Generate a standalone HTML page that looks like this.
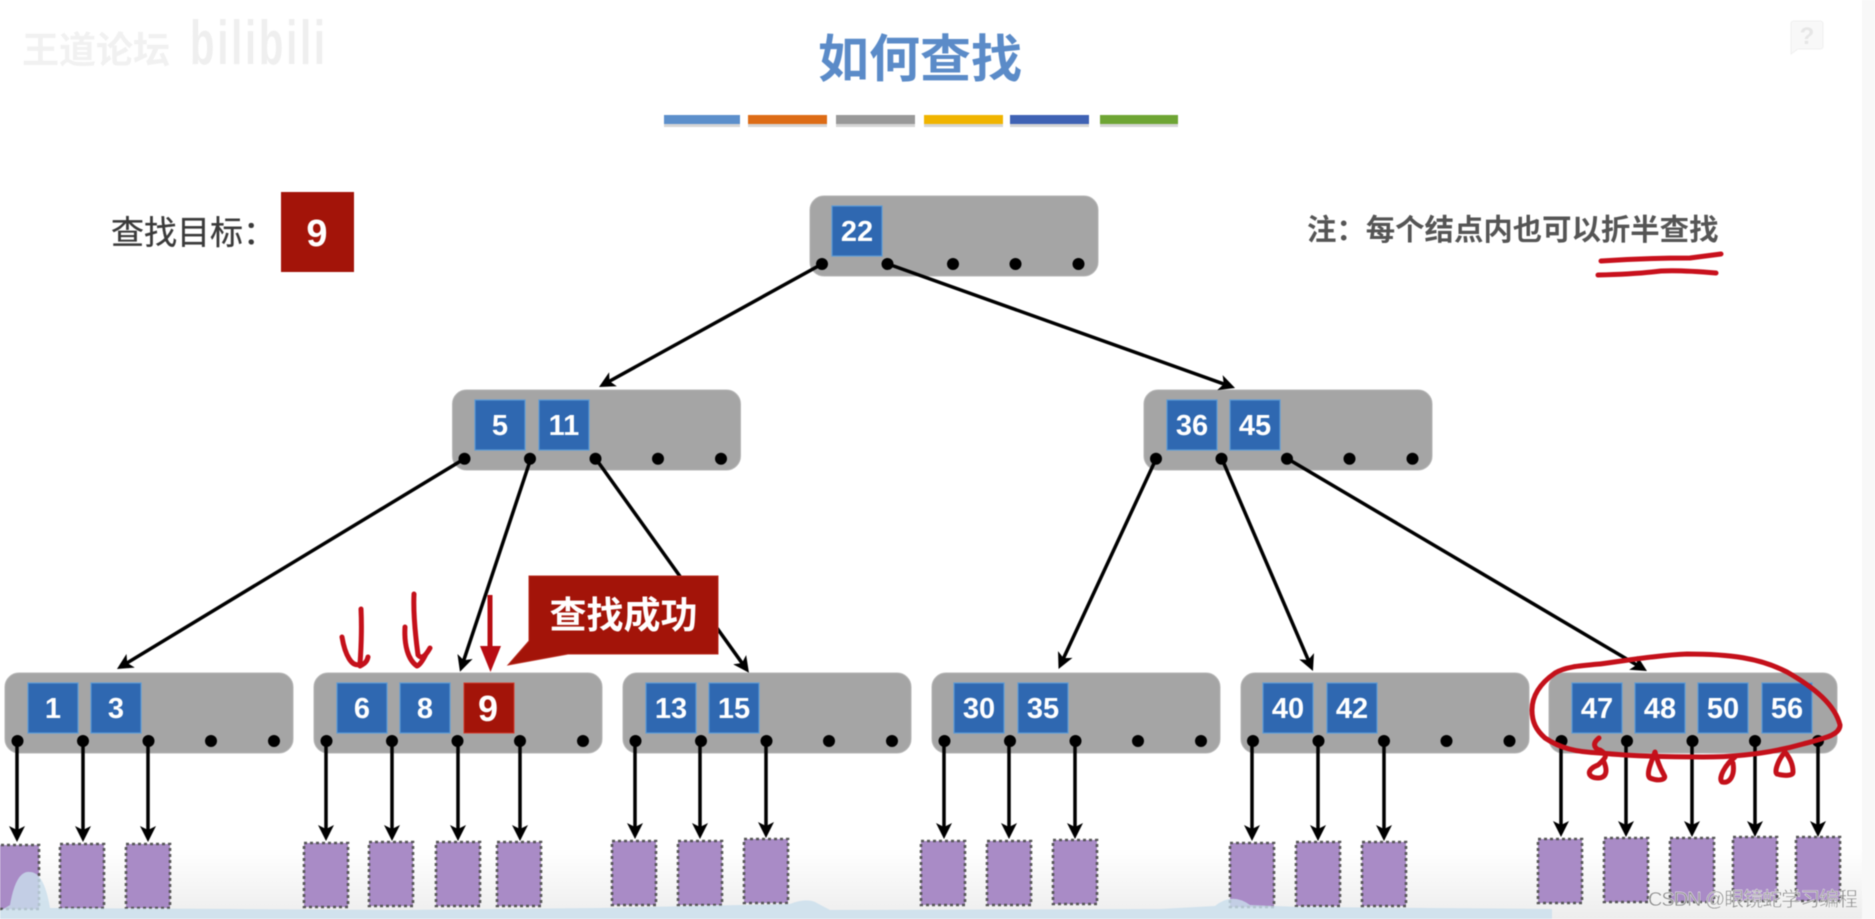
<!DOCTYPE html>
<html lang="zh"><head><meta charset="utf-8"><title>如何查找</title>
<style>
html,body{margin:0;padding:0;background:#fff;width:1875px;height:919px;overflow:hidden}
svg{display:block;filter:blur(.5px)}
text{font-family:"Liberation Sans","Noto Sans CJK SC",sans-serif}
.k{fill:#2f68b1;stroke:#5a9ad6;stroke-width:1.2}
.n{fill:#a5a5a5;stroke:#b5b5b5;stroke-width:1}
.t{fill:#fff;font-size:29px;font-weight:bold;text-anchor:middle}
.a{stroke:#000;stroke-width:3.5;fill:none;marker-end:url(#ah)}
.p{fill:#a98bc6;stroke:#555;stroke-width:2.6;stroke-dasharray:3 3}
.h{fill:none;stroke:#c4101a;stroke-width:5;stroke-linecap:round;stroke-linejoin:round}
</style></head><body>
<svg width="1875" height="919" viewBox="0 0 1875 919" xmlns="http://www.w3.org/2000/svg">
<defs>
<marker id="ah" markerUnits="userSpaceOnUse" viewBox="0 0 16 16" markerWidth="16" markerHeight="16" refX="8" refY="8" orient="auto"><path d="M0,0 L16,8 L0,16 L4,8 z" fill="#000"/></marker>
<linearGradient id="bg" x1="0" y1="0" x2="0" y2="1"><stop offset="0" stop-color="#fff"/><stop offset="1" stop-color="#ededed"/></linearGradient>
<g id="dots"><circle cx="13" cy="68.5" r="6"/><circle cx="78.5" cy="68.5" r="6"/><circle cx="144" cy="68.5" r="6"/><circle cx="206.5" cy="68.5" r="6"/><circle cx="269.5" cy="68.5" r="6"/></g>
<rect id="nb" width="288" height="80" rx="14" class="n"/>
</defs>

<rect x="0" y="850" width="1875" height="69" fill="url(#bg)"/>
<rect x="1862" y="0" width="13" height="919" fill="#f8f8f8"/>

<!-- watermark -->
<text x="22" y="63" font-size="37" fill="#f1f1f1" textLength="148" font-weight="bold">王道论坛</text>
<text transform="translate(190,64) scale(1,1.55)" font-size="40" font-weight="bold" fill="#efefef" textLength="135">bilibili</text>
<path d="M1791,24 q0,-3 3,-3 h26 q3,0 3,3 v22 q0,3 -3,3 h-22 l-7,5 z" fill="#f8f8f8" stroke="#f0f0f0"/>
<text x="1807" y="44" font-size="24" font-weight="bold" fill="#e6e6e6" text-anchor="middle">?</text>

<!-- title -->
<text x="920" y="77" font-size="51" font-weight="bold" fill="#5b8bc8" text-anchor="middle">如何查找</text>
<g>
<rect x="664" y="118" width="76" height="9" fill="#888" opacity=".35"/><rect x="748" y="118" width="79" height="9" fill="#888" opacity=".35"/><rect x="836" y="118" width="79" height="9" fill="#888" opacity=".35"/><rect x="924" y="118" width="79" height="9" fill="#888" opacity=".35"/><rect x="1010" y="118" width="79" height="9" fill="#888" opacity=".35"/><rect x="1100" y="118" width="78" height="9" fill="#888" opacity=".35"/>
<rect x="664" y="115" width="76" height="9" fill="#5c8fcb"/>
<rect x="748" y="115" width="79" height="9" fill="#dd6c16"/>
<rect x="836" y="115" width="79" height="9" fill="#999"/>
<rect x="924" y="115" width="79" height="9" fill="#f0b400"/>
<rect x="1010" y="115" width="79" height="9" fill="#3f62b4"/>
<rect x="1100" y="115" width="78" height="9" fill="#6ea534"/>
</g>

<text x="111" y="244" font-size="33" fill="#3a3a3a" stroke="#3a3a3a" stroke-width=".3">查找目标：</text>
<rect x="281" y="192" width="73" height="80" fill="#a31409"/>
<text x="317" y="246" font-size="38" font-weight="bold" fill="#fff" text-anchor="middle">9</text>
<text x="1307" y="240" font-size="29.4" font-weight="bold" fill="#555">注：每个结点内也可以折半查找</text>
<path d="M1601,261 Q1645,258 1690,258 L1721,254 M1598,275 Q1636,274 1661,271 Q1681,270 1716,273" fill="none" stroke="#c8101c" stroke-width="5" stroke-linecap="round"/>

<!-- root -->
<use href="#nb" x="810" y="196"/>
<rect class="k" x="832" y="206" width="50" height="50"/><text class="t" x="857" y="241">22</text>

<!-- level 2 -->
<use href="#nb" x="452.5" y="390"/>
<rect class="k" x="475" y="400" width="50" height="50"/><text class="t" x="500" y="435">5</text>
<rect class="k" x="539" y="400" width="50" height="50"/><text class="t" x="564" y="435">11</text>
<use href="#nb" x="1144" y="390"/>
<rect class="k" x="1167" y="400" width="50" height="50"/><text class="t" x="1192" y="435">36</text>
<rect class="k" x="1230" y="400" width="50" height="50"/><text class="t" x="1255" y="435">45</text>

<!-- level 3 -->
<use href="#nb" x="5" y="673"/>
<rect class="k" x="28" y="683" width="50" height="50"/><text class="t" x="53" y="718">1</text>
<rect class="k" x="91" y="683" width="50" height="50"/><text class="t" x="116" y="718">3</text>

<use href="#nb" x="314" y="673"/>
<rect class="k" x="337" y="683" width="50" height="50"/><text class="t" x="362" y="718">6</text>
<rect class="k" x="400" y="683" width="50" height="50"/><text class="t" x="425" y="718">8</text>
<rect x="464" y="683" width="50" height="50" fill="#a31409" stroke="#d03a2c" stroke-width="1"/><text x="488" y="721" font-size="36" font-weight="bold" fill="#fff" text-anchor="middle">9</text>

<use href="#nb" x="623" y="673"/>
<rect class="k" x="646" y="683" width="50" height="50"/><text class="t" x="671" y="718">13</text>
<rect class="k" x="709" y="683" width="50" height="50"/><text class="t" x="734" y="718">15</text>

<use href="#nb" x="932" y="673"/>
<rect class="k" x="954" y="683" width="50" height="50"/><text class="t" x="979" y="718">30</text>
<rect class="k" x="1018" y="683" width="50" height="50"/><text class="t" x="1043" y="718">35</text>

<use href="#nb" x="1241" y="673"/>
<rect class="k" x="1263" y="683" width="50" height="50"/><text class="t" x="1288" y="718">40</text>
<rect class="k" x="1327" y="683" width="50" height="50"/><text class="t" x="1352" y="718">42</text>

<use href="#nb" x="1549" y="673"/>
<rect class="k" x="1572" y="683" width="50" height="50"/><text class="t" x="1597" y="718">47</text>
<rect class="k" x="1635" y="683" width="50" height="50"/><text class="t" x="1660" y="718">48</text>
<rect class="k" x="1698" y="683" width="50" height="50"/><text class="t" x="1723" y="718">50</text>
<rect class="k" x="1762" y="683" width="50" height="50"/><text class="t" x="1787" y="718">56</text>

<!-- connectors -->
<line class="a" x1="822" y1="264" x2="606" y2="383.1"/>
<line class="a" x1="888" y1="264" x2="1227.5" y2="385.3"/>
<line class="a" x1="464" y1="459" x2="123.8" y2="664.9"/>
<line class="a" x1="530.7" y1="459" x2="462.5" y2="664.1"/>
<line class="a" x1="596" y1="459" x2="744.3" y2="666.2"/>
<line class="a" x1="1156" y1="459" x2="1061.9" y2="661.7"/>
<line class="a" x1="1222" y1="459" x2="1309.8" y2="663.6"/>
<line class="a" x1="1288" y1="459" x2="1640.1" y2="666.9"/>

<!-- pointer dots -->
<g transform="translate(809,195.5)"><use href="#dots"/></g>
<g transform="translate(451.5,390.2)"><use href="#dots"/></g>
<g transform="translate(1143,390.2)"><use href="#dots"/></g>
<g transform="translate(4.5,672.5)"><use href="#dots"/></g>
<g transform="translate(313.5,672.5)"><use href="#dots"/></g>
<g transform="translate(622.5,672.5)"><use href="#dots"/></g>
<g transform="translate(931.5,672.5)"><use href="#dots"/></g>
<g transform="translate(1240,672.5)"><use href="#dots"/></g>
<g transform="translate(1548.5,672.5)"><use href="#dots"/></g>

<!-- vertical arrows -->
<g>
<line class="a" x1="17" y1="741" x2="17" y2="834"/><line class="a" x1="83" y1="741" x2="83" y2="834"/><line class="a" x1="148" y1="741" x2="148" y2="834"/>
<line class="a" x1="326" y1="741" x2="326" y2="833"/><line class="a" x1="392" y1="741" x2="392" y2="833"/><line class="a" x1="458" y1="741" x2="458" y2="833"/><line class="a" x1="520" y1="741" x2="520" y2="833"/>
<line class="a" x1="635" y1="741" x2="635" y2="831"/><line class="a" x1="700" y1="741" x2="700" y2="831"/><line class="a" x1="766" y1="741" x2="766" y2="830"/>
<line class="a" x1="944" y1="741" x2="944" y2="831"/><line class="a" x1="1009" y1="741" x2="1009" y2="831"/><line class="a" x1="1075" y1="741" x2="1075" y2="831"/>
<line class="a" x1="1252" y1="741" x2="1252" y2="833"/><line class="a" x1="1318" y1="741" x2="1318" y2="833"/><line class="a" x1="1384" y1="741" x2="1384" y2="833"/>
<line class="a" x1="1561" y1="741" x2="1561" y2="829"/><line class="a" x1="1626" y1="741" x2="1626" y2="829"/><line class="a" x1="1692" y1="741" x2="1692" y2="829"/><line class="a" x1="1755" y1="741" x2="1755" y2="829"/><line class="a" x1="1818" y1="741" x2="1818" y2="829"/>
</g>

<!-- purple leaves -->
<g>
<rect class="p" x="-5" y="845" width="44" height="64"/><rect class="p" x="60" y="844" width="44" height="64"/><rect class="p" x="126" y="844" width="44" height="64"/>
<rect class="p" x="304" y="843" width="44" height="64"/><rect class="p" x="369" y="842" width="44" height="64"/><rect class="p" x="436" y="842" width="44" height="64"/><rect class="p" x="497" y="842" width="44" height="64"/>
<rect class="p" x="612" y="841" width="44" height="64"/><rect class="p" x="678" y="841" width="44" height="64"/><rect class="p" x="744" y="839" width="44" height="64"/>
<rect class="p" x="921" y="841" width="44" height="64"/><rect class="p" x="987" y="841" width="44" height="64"/><rect class="p" x="1053" y="840" width="44" height="64"/>
<rect class="p" x="1230" y="843" width="44" height="64"/><rect class="p" x="1296" y="842" width="44" height="64"/><rect class="p" x="1362" y="842" width="44" height="64"/>
<rect class="p" x="1538" y="839" width="44" height="64"/><rect class="p" x="1604" y="838" width="44" height="64"/><rect class="p" x="1670" y="838" width="44" height="64"/><rect class="p" x="1733" y="837" width="44" height="64"/><rect class="p" x="1796" y="837" width="44" height="64"/>
</g>

<!-- bottom band -->
<path d="M0,919 V911 L10,905 Q16,870 30,872 Q44,872 50,908 L400,910 L600,908 L790,904 Q805,898 815,902 L830,910 L1160,909 L1215,906 Q1232,892 1250,905 L1300,907 L1552,909 V919 Z" fill="#c9deec" opacity=".8"/>

<!-- callout -->
<path d="M529,576 H718 V654 H568 L508,665 L529,641 Z" fill="#a31409" stroke="#b82a1e" stroke-width="1"/>
<text x="623.5" y="628" font-size="37" font-weight="bold" fill="#fff" text-anchor="middle">查找成功</text>

<!-- red pointer -->
<rect x="487.5" y="595" width="5" height="52" fill="#b80c12"/>
<path d="M480,646 H501 L490.5,672 Z" fill="#b80c12"/>

<!-- hand-drawn -->
<path class="h" stroke-width="4" d="M361,609 C362,630 361,650 360,664 C352,668 345,655 342,637 M360,666 C364,664 367,662 368,657"/>
<path class="h" stroke-width="4" d="M414,594 C413,615 416,640 418,655 C422,660 426,655 430,648 M405,627 C404,645 408,660 417,666 C420,665 423,660 426,654"/>
<path class="h" d="M1532,710 C1532,692 1545,680 1555,673 C1565,667 1577,666 1600,664 C1630,660 1660,655 1687,654 C1730,654 1760,658 1787,672 C1815,688 1835,705 1840,725 C1840,735 1825,738 1803,744 C1775,752 1740,757 1703,757 C1660,757 1630,756 1600,753 C1575,752 1560,748 1545,738 C1536,730 1532,722 1532,710 Z"/>
<path class="h" d="M1599,738 C1590,745 1597,750 1600,750 C1608,755 1607,757 1598,765 C1585,770 1588,778 1598,778 C1607,778 1608,770 1603,760"/>
<path class="h" d="M1655,752 C1650,765 1646,775 1650,778 C1660,782 1667,779 1664,775 C1660,768 1657,760 1655,752"/>
<path class="h" d="M1735,757 C1725,765 1718,778 1722,782 C1730,784 1735,775 1733,763"/>
<path class="h" d="M1785,752 C1778,760 1774,772 1777,774 C1785,776 1793,776 1793,772 C1793,765 1790,758 1785,752"/>

<text x="1648" y="906" font-size="20" fill="#8a8a8a" stroke="#fff" stroke-width=".4" textLength="210">CSDN @眼镜蛇学习编程</text>
</svg>
</body></html>
